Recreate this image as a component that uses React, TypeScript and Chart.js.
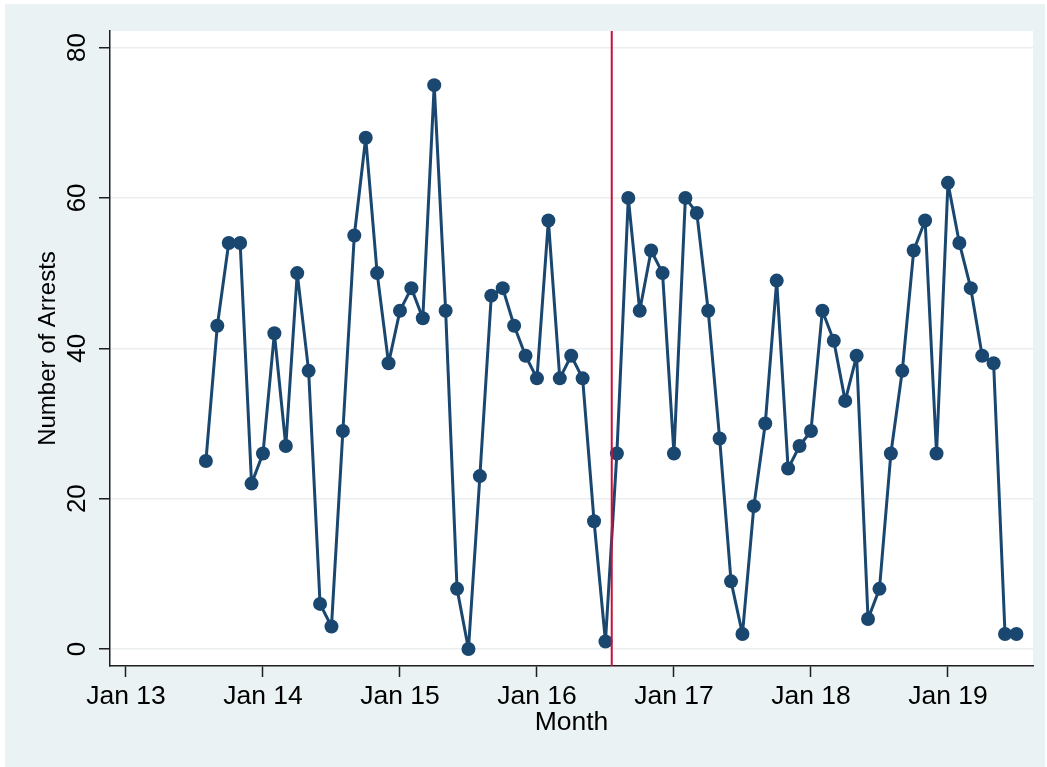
import React, { useEffect, useRef } from "react";
import { Chart, registerables } from "chart.js";

Chart.register(...registerables);

// Months of observation (YYYY-MM)
const months: string[] = [
  "2013-08", "2013-09", "2013-10", "2013-11", "2013-12",
  "2014-01", "2014-02", "2014-03", "2014-04", "2014-05", "2014-06",
  "2014-07", "2014-08", "2014-09", "2014-10", "2014-11", "2014-12",
  "2015-01", "2015-02", "2015-03", "2015-04", "2015-05", "2015-06",
  "2015-07", "2015-08", "2015-09", "2015-10", "2015-11", "2015-12",
  "2016-01", "2016-02", "2016-03", "2016-04", "2016-05", "2016-06",
  "2016-07", "2016-08", "2016-09", "2016-10", "2016-11", "2016-12",
  "2017-01", "2017-02", "2017-03", "2017-04", "2017-05", "2017-06",
  "2017-07", "2017-08", "2017-09", "2017-10", "2017-11", "2017-12",
  "2018-01", "2018-02", "2018-03", "2018-04", "2018-05", "2018-06",
  "2018-07", "2018-08", "2018-09", "2018-10", "2018-11", "2018-12",
  "2019-01", "2019-02", "2019-03", "2019-04", "2019-05", "2019-06",
  "2019-07",
];

// Number of arrests per month
const arrests: number[] = [
  25, 43, 54, 54, 22,
  26, 42, 27, 50, 37, 6,
  3, 29, 55, 68, 50, 38,
  45, 48, 44, 75, 45, 8,
  0, 23, 47, 48, 43, 39,
  36, 57, 36, 39, 36, 17,
  1, 26, 60, 45, 53, 50,
  26, 60, 58, 45, 28, 9,
  2, 19, 30, 49, 24, 27,
  29, 45, 41, 33, 39, 4,
  8, 26, 37, 53, 57, 26,
  62, 54, 48, 39, 38, 2,
  2,
];

// Axis tick labels and their months
const xTickMonths: string[] = ["2013-01", "2014-01", "2015-01", "2016-01", "2017-01", "2018-01", "2019-01"];
const xTickLabels: string[] = ["Jan 13", "Jan 14", "Jan 15", "Jan 16", "Jan 17", "Jan 18", "Jan 19"];
const yTicks: number[] = [0, 20, 40, 60, 80];

// Intervention (mid-July 2016), in months since Jan 2013
const interventionMonth = 42.55;

// Axis ranges
const xMin = -1.4;
const xMax = 79.45;
const yMin = -2.26;
const yMax = 82.2;

const monthToIndex = (m: string) => {
  const [y, mo] = m.split("-").map(Number);
  return (y - 2013) * 12 + (mo - 1);
};

const FONT = "'Liberation Sans', Arial, Helvetica, sans-serif";
const NAVY = "#1a476f";
const RED = "#c8103a";
const AXIS = "#1e1e1e";

const whiteArea = {
  id: "whiteArea",
  beforeDraw(chart: any) {
    const { ctx, chartArea: a } = chart;
    ctx.save();
    ctx.fillStyle = "#ffffff";
    ctx.fillRect(a.left, a.top, a.right - a.left, a.bottom - a.top);
    ctx.restore();
  },
};

export default function App() {
  const ref = useRef<HTMLCanvasElement | null>(null);

  useEffect(() => {
    if (!ref.current) return;
    const tickIdx = xTickMonths.map(monthToIndex);
    const chart = new Chart(ref.current, {
      type: "line",
      data: {
        datasets: [
          {
            label: "Intervention",
            data: [
              { x: interventionMonth, y: yMin },
              { x: interventionMonth, y: yMax },
            ],
            borderColor: RED,
            borderWidth: 2,
            pointRadius: 0,
            order: 0,
          },
          {
            label: "Number of Arrests",
            data: months.map((m, i) => ({ x: monthToIndex(m), y: arrests[i] })),
            borderColor: NAVY,
            backgroundColor: NAVY,
            borderWidth: 3,
            borderJoinStyle: "round",
            borderCapStyle: "round",
            pointRadius: 7,
            pointBorderWidth: 0,
            pointBackgroundColor: NAVY,
            tension: 0,
            order: 1,
          },
        ],
      },
      options: {
        animation: false,
        responsive: false,
        events: [],
        layout: { padding: { top: 27, right: 12, left: 0, bottom: 0 } },
        plugins: {
          legend: { display: false },
          tooltip: { enabled: false },
          title: { display: false },
        },
        scales: {
          x: {
            type: "linear",
            min: xMin,
            max: xMax,
            afterBuildTicks: (scale: any) => {
              scale.ticks = tickIdx.map((v) => ({ value: v }));
            },
            afterFit: (scale: any) => {
              scale.height = 101;
            },
            ticks: {
              autoSkip: false,
              maxRotation: 0,
              minRotation: 0,
              padding: 4,
              color: "#000",
              font: { family: FONT, size: 26.5 },
              callback: (v: any) => {
                const i = tickIdx.indexOf(Number(v));
                return i >= 0 ? xTickLabels[i] : "";
              },
            },
            grid: {
              drawOnChartArea: false,
              drawTicks: true,
              tickLength: 11,
              tickColor: AXIS,
              tickWidth: 1.5,
            },
            border: { display: true, color: AXIS, width: 1.5 },
            title: {
              display: true,
              text: "Month",
              color: "#000",
              font: { family: FONT, size: 26.5 },
              padding: { top: 0, bottom: 28.5 },
            },
          },
          y: {
            type: "linear",
            min: yMin,
            max: yMax,
            afterBuildTicks: (scale: any) => {
              scale.ticks = yTicks.map((v) => ({ value: v }));
            },
            afterFit: (scale: any) => {
              scale.width = 105;
            },
            ticks: {
              minRotation: 90,
              maxRotation: 90,
              crossAlign: "center",
              padding: 6.5,
              color: "#000",
              font: { family: FONT, size: 26 },
              callback: (v: any) => String(v),
            },
            grid: {
              drawOnChartArea: true,
              color: "#eaeeef",
              lineWidth: 1.5,
              drawTicks: true,
              tickLength: 11,
              tickColor: AXIS,
              tickWidth: 1.5,
            },
            border: { display: true, color: AXIS, width: 1.5 },
            title: {
              display: true,
              text: "Number of Arrests",
              color: "#000",
              font: { family: FONT, size: 24 },
              padding: { top: 28.5, bottom: 0 },
            },
          },
        },
      },
      plugins: [whiteArea],
    } as any);
    return () => chart.destroy();
  }, []);

  return (
    <div
      style={{
        position: "fixed",
        left: 5,
        top: 4,
        width: 1040,
        height: 763,
        background: "#eaf2f3",
      }}
    >
      <canvas ref={ref} width={1040} height={763} style={{ display: "block" }} />
    </div>
  );
}
